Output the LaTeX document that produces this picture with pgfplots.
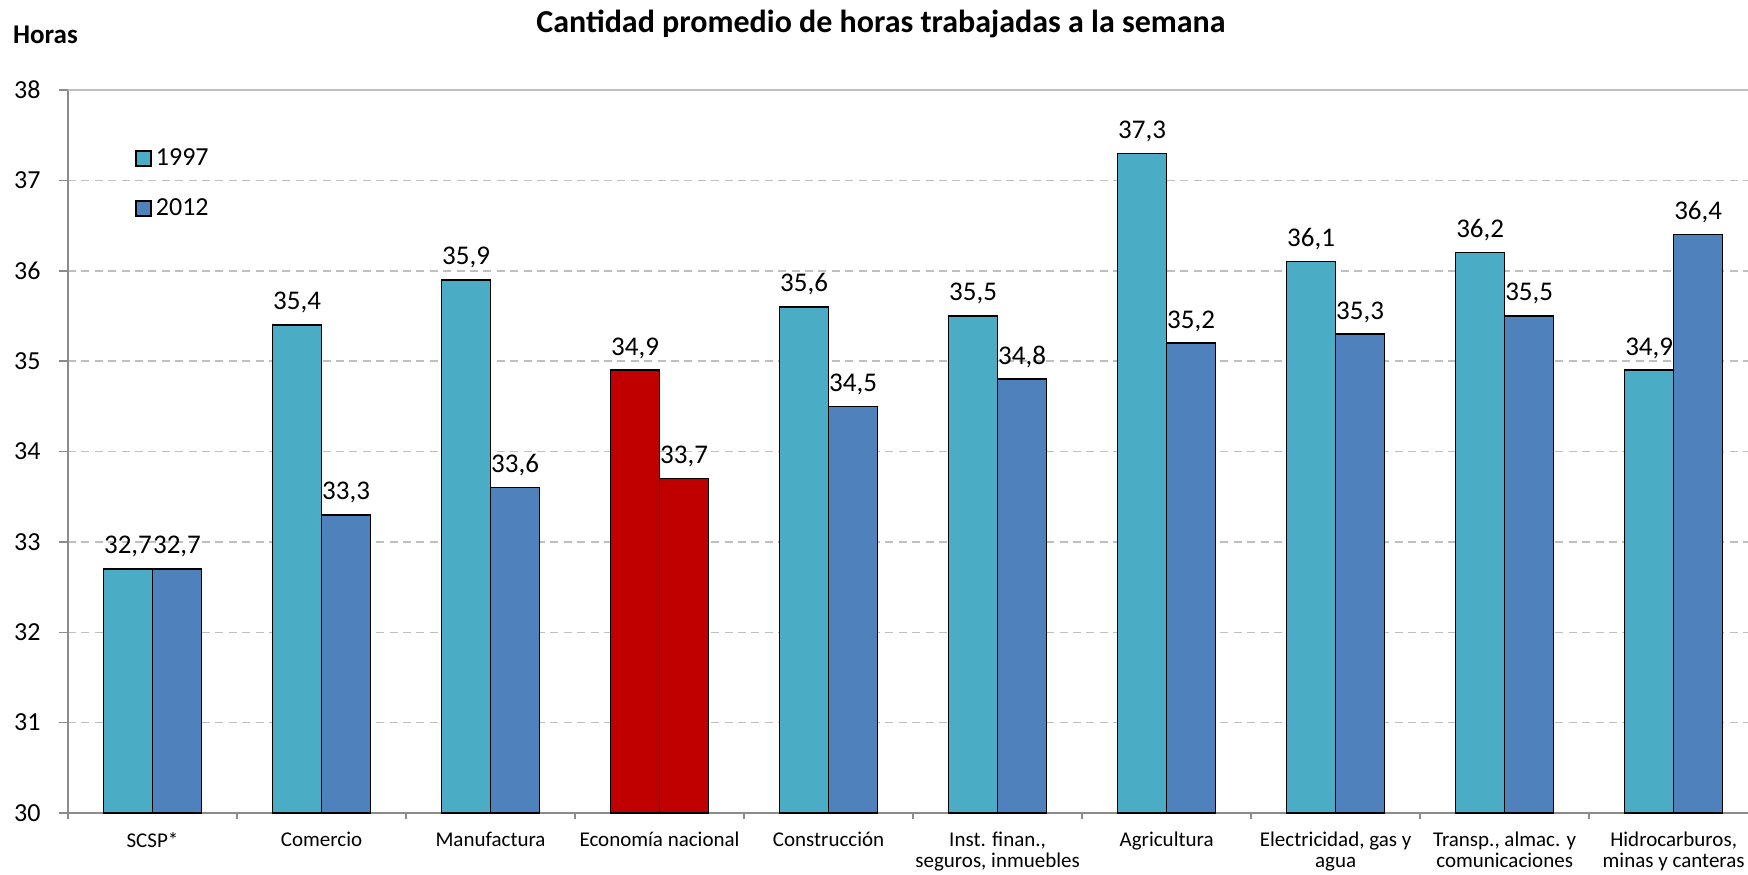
\documentclass[border=0pt]{standalone}
\usepackage{fontspec}
\setmainfont{Carlito}
\usepackage{pgfplots}
\pgfplotsset{compat=1.18}
\definecolor{c97}{HTML}{4BACC6}
\definecolor{c12}{HTML}{4F81BD}
\definecolor{cred}{HTML}{C00000}
\definecolor{gridc}{HTML}{BFBFBF}
\definecolor{axc}{HTML}{8C8C8C}
\begin{document}
\begin{tikzpicture}
\path[use as bounding box] (0,0) rectangle (874pt,437pt);
\node[anchor=base, font=\fontsize{16}{19}\selectfont\bfseries] at (440.5pt,420.5pt) {Cantidad promedio de horas trabajadas a la semana};
\node[anchor=base west, inner sep=0pt, font=\fontsize{13.5}{16}\selectfont\bfseries] at (6.35pt,415pt) {Horas};
\begin{axis}[
  at={(34pt,30.5pt)}, anchor=south west,
  scale only axis, width=840pt, height=361.5pt,
  xmin=-0.5, xmax=9.44, ymin=30, ymax=38,
  axis x line*=bottom, axis y line*=left,
  axis line style={axc, line width=0.75pt},
  tick align=outside,
  major tick length=4.5pt, minor tick length=3pt,
  tick style={axc, line width=0.75pt},
  ytick={30,...,38},
  ymajorgrids,
  grid style={gridc, dash pattern=on 4pt off 2.7pt, line width=0.75pt},
  extra y ticks={38}, extra y tick labels={},
  extra y tick style={grid style={gridc, solid, line width=0.75pt}},
  xtick={0,...,9},
  major x tick style={draw=none},
  minor xtick={-0.5,0.5,...,9.5},
  minor x tick style={draw=axc},
  xticklabels={SCSP*, Comercio, Manufactura, Economía nacional, Construcción, {Inst. finan.,\\seguros, inmuebles}, Agricultura, {Electricidad, gas y\\agua}, {Transp., almac. y\\comunicaciones}, {Hidrocarburos,\\minas y canteras}},
  xticklabel style={font=\fontsize{10.5}{10.4}\selectfont, align=center, inner sep=0pt, yshift=-5pt},
  yticklabel style={font=\fontsize{13}{15}\selectfont, inner sep=0pt, xshift=-9pt},
  /pgf/number format/assume math mode=true,
  nodes near coords={\pgfmathprintnumber[fixed,fixed zerofill,precision=1,use comma,assume math mode=true]{\pgfplotspointmeta}},
  every node near coord/.append style={font=\fontsize{13.5}{16}\selectfont, anchor=base, inner sep=0pt, yshift=7.5pt, text=black},
  legend style={draw=none, fill=none, at={(0.0399,0.925)}, anchor=north west, inner sep=0pt, row sep=11pt, font=\fontsize{13}{15}\selectfont},
  legend cell align=left,
]
\addplot[ybar, bar width=24.5pt, bar shift=-12.25pt, fill=c97, draw=black, line width=0.75pt,
  every node near coord/.append style={xshift=-12.25pt},
  legend image code/.code={\draw[fill=c97, draw=black, line width=0.75pt] (0pt,-3.75pt) rectangle (7.5pt,3.75pt);}]
  coordinates {(0,32.7) (1,35.4) (2,35.9) (4,35.6) (5,35.5) (6,37.3) (7,36.1) (8,36.2) (9,34.9)};
\addlegendentry{1997}
\addplot[ybar, bar width=24.5pt, bar shift=12.25pt, fill=c12, draw=black, line width=0.75pt,
  every node near coord/.append style={xshift=12.25pt},
  legend image code/.code={\draw[fill=c12, draw=black, line width=0.75pt] (0pt,-3.75pt) rectangle (7.5pt,3.75pt);}]
  coordinates {(0,32.7) (1,33.3) (2,33.6) (4,34.5) (5,34.8) (6,35.2) (7,35.3) (8,35.5) (9,36.4)};
\addlegendentry{2012}
\addplot[ybar, bar width=24.5pt, bar shift=-12.25pt, fill=cred, draw=black, line width=0.75pt, forget plot,
  every node near coord/.append style={xshift=-12.25pt}]
  coordinates {(3,34.9)};
\addplot[ybar, bar width=24.5pt, bar shift=12.25pt, fill=cred, draw=black, line width=0.75pt, forget plot,
  every node near coord/.append style={xshift=12.25pt}]
  coordinates {(3,33.7)};
\end{axis}
\end{tikzpicture}
\end{document}
